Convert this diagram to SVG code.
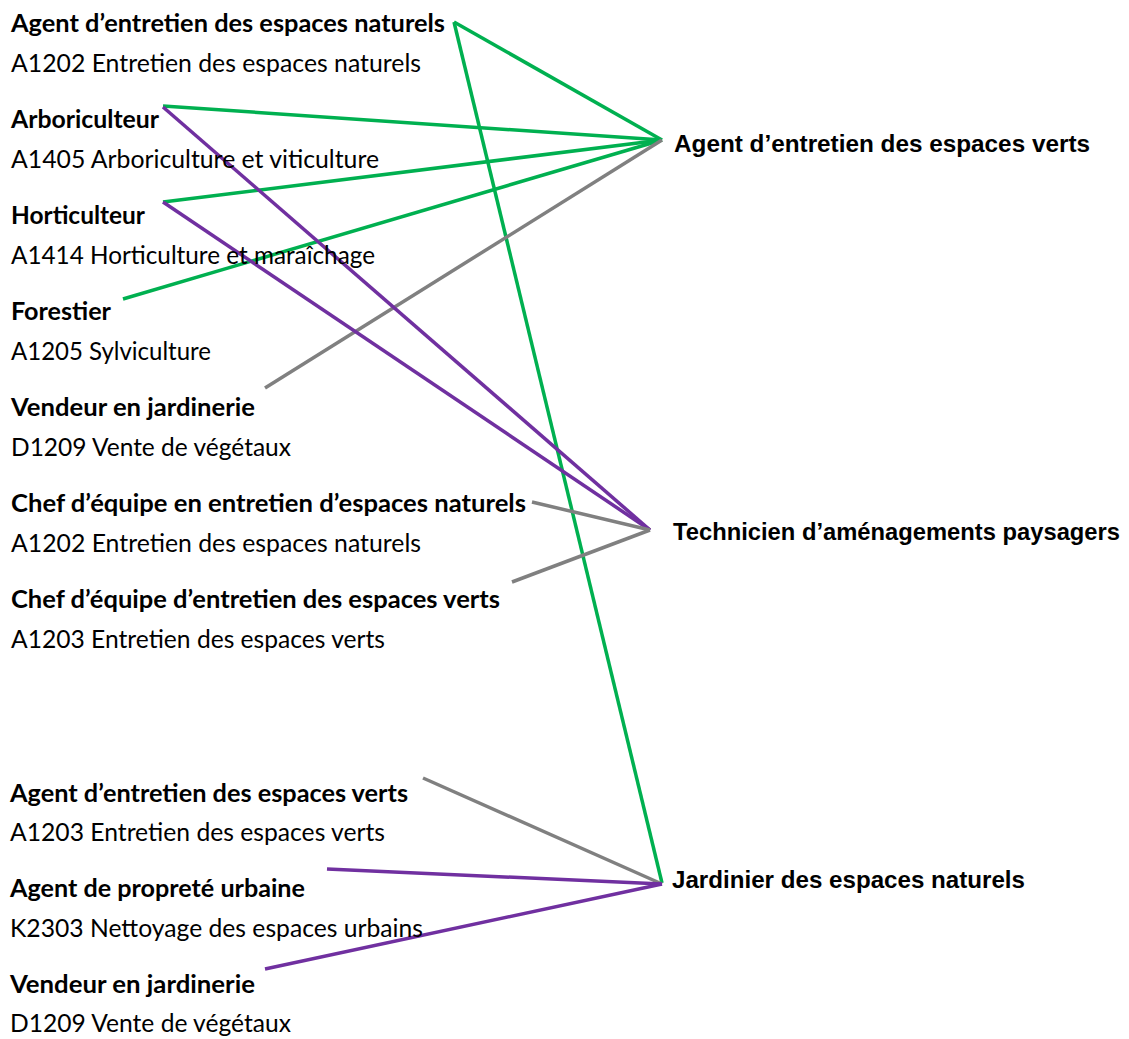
<svg xmlns="http://www.w3.org/2000/svg" width="1129" height="1039" viewBox="0 0 1129 1039">
<style>
  .t { font-family: Lato, "Liberation Sans", sans-serif; font-size: 25px; fill: #000; }
  .b { font-weight: bold; }
  .r { font-family: "Liberation Sans", Arial, sans-serif; font-size: 24px; font-weight: bold; fill: #000; }
  .c { fill: none; stroke-width: 3.5; stroke-linecap: butt; }
  .g { stroke: #00B050; }
  .p { stroke: #7030A0; }
  .y { stroke: #808080; }
</style>
<rect width="1129" height="1039" fill="#fff"/>
<g id="connectors">
  <line class="c g" x1="454" y1="22" x2="662" y2="140"/>
  <line class="c g" x1="454" y1="22" x2="662" y2="883"/>
  <line class="c g" x1="163" y1="106" x2="662" y2="140"/>
  <line class="c g" x1="163" y1="202" x2="662" y2="140"/>
  <line class="c g" x1="123" y1="299" x2="662" y2="140"/>
  <line class="c y" x1="265" y1="388" x2="662" y2="140"/>
  <line class="c p" x1="163" y1="107" x2="650" y2="530"/>
  <line class="c p" x1="163" y1="202" x2="650" y2="530"/>
  <line class="c y" x1="532" y1="502" x2="650" y2="530"/>
  <line class="c y" x1="512" y1="582" x2="650" y2="530"/>
  <line class="c y" x1="423" y1="778" x2="662" y2="884"/>
  <line class="c p" x1="327" y1="869" x2="662" y2="884"/>
  <line class="c p" x1="265" y1="969" x2="662" y2="884"/>
</g>
<g id="src-agent-espaces-naturels">
  <text class="t b" x="11" y="32" textLength="434" lengthAdjust="spacingAndGlyphs">Agent d’entretien des espaces naturels</text>
  <text class="t" x="11" y="72" textLength="410" lengthAdjust="spacingAndGlyphs">A1202 Entretien des espaces naturels</text>
</g>
<g id="src-arboriculteur">
  <text class="t b" x="11" y="128" textLength="148" lengthAdjust="spacingAndGlyphs">Arboriculteur</text>
  <text class="t" x="11" y="168" textLength="368" lengthAdjust="spacingAndGlyphs">A1405 Arboriculture et viticulture</text>
</g>
<g id="src-horticulteur">
  <text class="t b" x="11" y="224" textLength="134" lengthAdjust="spacingAndGlyphs">Horticulteur</text>
  <text class="t" x="11" y="264" textLength="364" lengthAdjust="spacingAndGlyphs">A1414 Horticulture et maraîchage</text>
</g>
<g id="src-forestier">
  <text class="t b" x="11" y="320" textLength="100" lengthAdjust="spacingAndGlyphs">Forestier</text>
  <text class="t" x="11" y="360" textLength="200" lengthAdjust="spacingAndGlyphs">A1205 Sylviculture</text>
</g>
<g id="src-vendeur-1">
  <text class="t b" x="11" y="416" textLength="244" lengthAdjust="spacingAndGlyphs">Vendeur en jardinerie</text>
  <text class="t" x="11" y="456" textLength="280" lengthAdjust="spacingAndGlyphs">D1209 Vente de végétaux</text>
</g>
<g id="src-chef-naturels">
  <text class="t b" x="11" y="512" textLength="515" lengthAdjust="spacingAndGlyphs">Chef d’équipe en entretien d’espaces naturels</text>
  <text class="t" x="11" y="552" textLength="410" lengthAdjust="spacingAndGlyphs">A1202 Entretien des espaces naturels</text>
</g>
<g id="src-chef-verts">
  <text class="t b" x="11" y="608" textLength="489" lengthAdjust="spacingAndGlyphs">Chef d’équipe d’entretien des espaces verts</text>
  <text class="t" x="11" y="648" textLength="374" lengthAdjust="spacingAndGlyphs">A1203 Entretien des espaces verts</text>
</g>
<g id="src-agent-espaces-verts">
  <text class="t b" x="10" y="802" textLength="398" lengthAdjust="spacingAndGlyphs">Agent d’entretien des espaces verts</text>
  <text class="t" x="10" y="841" textLength="375" lengthAdjust="spacingAndGlyphs">A1203 Entretien des espaces verts</text>
</g>
<g id="src-proprete">
  <text class="t b" x="10" y="897" textLength="295" lengthAdjust="spacingAndGlyphs">Agent de propreté urbaine</text>
  <text class="t" x="10" y="937" textLength="413" lengthAdjust="spacingAndGlyphs">K2303 Nettoyage des espaces urbains</text>
</g>
<g id="src-vendeur-2">
  <text class="t b" x="10" y="993" textLength="245" lengthAdjust="spacingAndGlyphs">Vendeur en jardinerie</text>
  <text class="t" x="10" y="1032" textLength="281" lengthAdjust="spacingAndGlyphs">D1209 Vente de végétaux</text>
</g>
<g id="dst-agent-espaces-verts">
  <text class="r" x="674" y="152" textLength="416" lengthAdjust="spacingAndGlyphs">Agent d’entretien des espaces verts</text>
</g>
<g id="dst-technicien">
  <text class="r" x="673" y="540" textLength="447" lengthAdjust="spacingAndGlyphs">Technicien d’aménagements paysagers</text>
</g>
<g id="dst-jardinier">
  <text class="r" x="672" y="888" textLength="353" lengthAdjust="spacingAndGlyphs">Jardinier des espaces naturels</text>
</g>
</svg>
